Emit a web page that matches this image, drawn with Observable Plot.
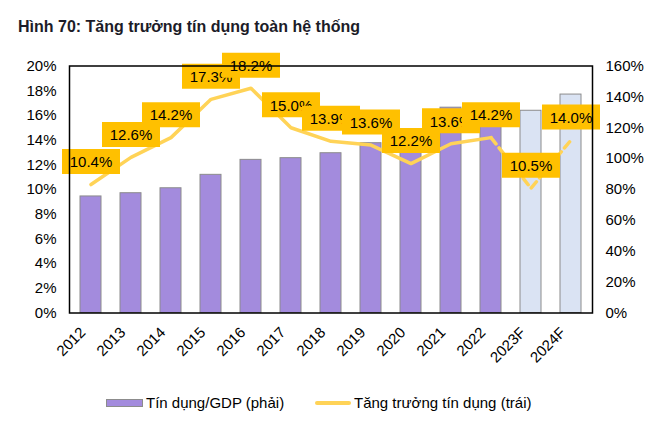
<!DOCTYPE html>
<html>
<head>
<meta charset="utf-8">
<script src="https://cdn.jsdelivr.net/npm/d3@7"></script>
<script src="https://cdn.jsdelivr.net/npm/@observablehq/plot@0.6"></script>
<style>
  html, body { margin: 0; padding: 0; background: #fff; }
  body { width: 666px; height: 427px; position: relative; overflow: hidden; font-family: "Liberation Sans", Arial, sans-serif; color: #000; }
  #title { position: absolute; left: 18px; top: 18px; line-height: 18px; font-size: 16px; font-weight: bold; color: #1c1c28; white-space: nowrap; }
  #chart { position: absolute; left: 0; top: 40px; }
  #legend { position: absolute; top: 392px; left: 0; width: 666px; height: 22px; font-size: 15px; line-height: 22px; }
  .item { position: absolute; top: 0; display: flex; align-items: center; white-space: nowrap; }
  .sw-bar { width: 35px; height: 6px; background: #A38BDD; border: 1px solid #8C8C8C; margin-right: 3px; }
  .sw-line { width: 36px; height: 4px; background: #FFD357; border-radius: 2px; margin-right: 3px; }
</style>
</head>
<body>
<div id="title">Hình 70: Tăng trưởng tín dụng toàn hệ thống</div>
<div id="chart"></div>
<div id="legend">
  <div class="item" style="left:106px"><span class="sw-bar"></span><span>Tín dụng/GDP (phải)</span></div>
  <div class="item" style="left:315px"><span class="sw-line"></span><span>Tăng trưởng tín dụng (trái)</span></div>
</div>
<script>
// Categories
const years = ["2012","2013","2014","2015","2016","2017","2018","2019","2020","2021","2022","2023F","2024F"];
// Credit / GDP (right axis, %)
const creditToGdp = [75.5, 77.6, 80.8, 89.5, 99.2, 100.3, 103.5, 110, 114, 133, 132, 131, 141.5];
// Credit growth (left axis, %)
const creditGrowth = [10.4, 12.6, 14.2, 17.3, 18.2, 15.0, 13.9, 13.6, 12.1, 13.7, 14.2, 10.1, 14.0];
// Data labels for credit growth
const growthLabels = ["10.4%","12.6%","14.2%","17.3%","18.2%","15.0%","13.9%","13.6%","12.2%","13.6%","14.2%","10.5%","14.0%"];
// Forecast flags
const isForecast = [false,false,false,false,false,false,false,false,false,false,false,true,true];
// Axis ticks
const leftTicks = [0,2,4,6,8,10,12,14,16,18,20];
const rightTicks = [0,20,40,60,80,100,120,140,160];

const ratio = 8; // right axis / left axis
const data = years.map((y, i) => ({
  year: y, gdp: creditToGdp[i], growth: creditGrowth[i], label: growthLabels[i], forecast: isForecast[i]
}));
const solid = data.filter(d => !d.forecast);
const dashed = data.slice(10);

const boxSymbol = { draw(ctx) { ctx.rect(-29, -12.5, 58, 25); } };

const labelMarks = [];
data.forEach(d => {
  labelMarks.push(Plot.dot([d], { x: "year", y: "growth", dy: -23, symbol: boxSymbol, r: 10, fill: "#FFC000", stroke: null }));
  labelMarks.push(Plot.text([d], { x: "year", y: "growth", dy: -22, text: "label", fill: "#000", fontSize: 15 }));
});

const chart = Plot.plot({
  width: 666,
  height: 340,
  marginTop: 25.5,
  marginBottom: 67.5,
  marginLeft: 69,
  marginRight: 74,
  style: { fontFamily: "'Liberation Sans', Arial, sans-serif", fontSize: "15px", color: "#000", background: "transparent" },
  x: { domain: years, paddingInner: 0.485, paddingOuter: 0.2425, label: null },
  y: { domain: [0, 20], label: null },
  marks: [
    Plot.barY(data, { x: "year", y: d => d.gdp / ratio, fill: d => d.forecast ? "#DAE3F3" : "#A38BDD", stroke: "#8C8C8C", strokeWidth: 1 }),
    Plot.line(solid, { x: "year", y: "growth", stroke: "#FFD357", strokeWidth: 3.5, strokeLinejoin: "round", strokeLinecap: "round" }),
    Plot.line(dashed, { x: "year", y: "growth", stroke: "#FFD357", strokeWidth: 3.5, strokeLinejoin: "round", strokeLinecap: "round", strokeDasharray: "8,5" }),
    ...labelMarks,
    Plot.frame({ stroke: "#000", strokeWidth: 1.5 }),
    Plot.axisY(leftTicks, { anchor: "left", tickSize: 0, tickPadding: 13, tickFormat: d => d + "%", fill: "#000", fontSize: 15 }),
    Plot.axisY(rightTicks.map(t => t / ratio), { anchor: "right", tickSize: 0, tickPadding: 13, tickFormat: d => Math.round(d * ratio) + "%", fill: "#000", fontSize: 15, textAnchor: "start" }),
    Plot.axisX({ tickSize: 0, tickRotate: -45, tickPadding: 6, dx: -8, dy: 11, fill: "#000", fontSize: 15 })
  ]
});
document.getElementById("chart").appendChild(chart);
</script>
</body>
</html>
